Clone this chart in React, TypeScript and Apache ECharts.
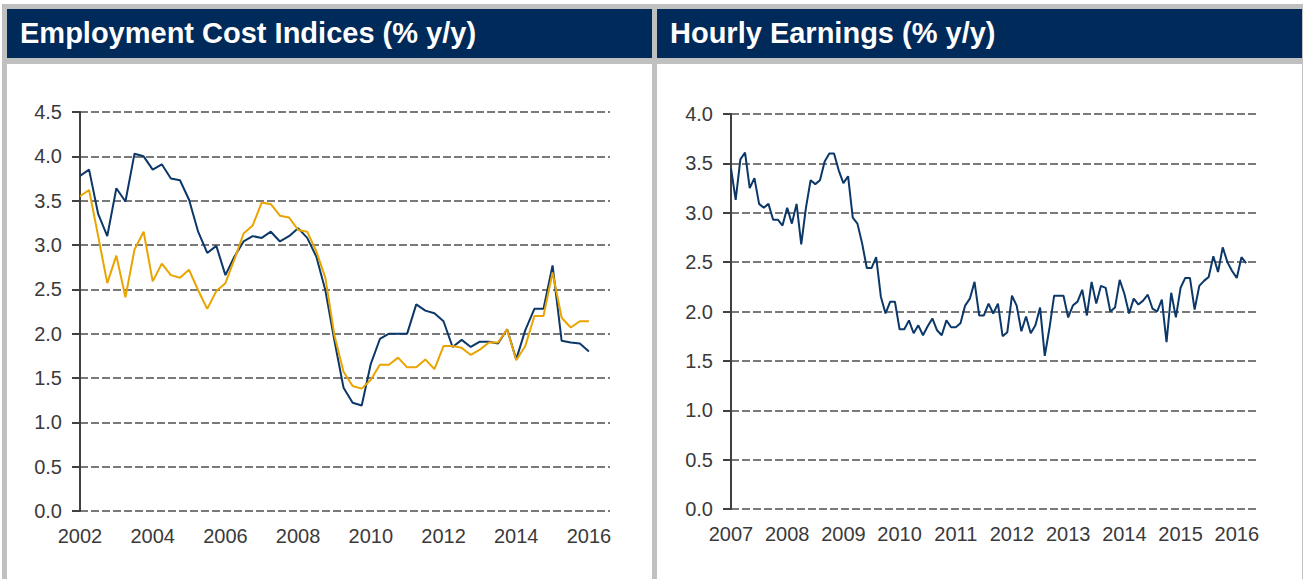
import React, { useEffect, useRef } from 'react';
import * as echarts from 'echarts';

// Employment Cost Indices, quarterly from 2002 Q1 to 2016 Q1 (% y/y)
const eciStartYear = 2002;
const eciTotal = [3.78, 3.85, 3.35, 3.10, 3.64, 3.49, 4.03, 4.00, 3.85, 3.91, 3.75, 3.73, 3.51, 3.15, 2.91, 2.99, 2.66, 2.87, 3.04, 3.10, 3.08, 3.15, 3.04, 3.10, 3.19, 3.08, 2.87, 2.49, 1.92, 1.39, 1.22, 1.19, 1.66, 1.94, 2.00, 2.00, 2.00, 2.33, 2.26, 2.23, 2.14, 1.85, 1.93, 1.85, 1.91, 1.91, 1.89, 2.05, 1.71, 2.04, 2.28, 2.28, 2.77, 1.92, 1.90, 1.89, 1.80];
const eciWages = [3.55, 3.62, 3.10, 2.57, 2.88, 2.41, 2.95, 3.15, 2.59, 2.79, 2.66, 2.63, 2.72, 2.49, 2.28, 2.48, 2.57, 2.84, 3.13, 3.22, 3.48, 3.46, 3.33, 3.31, 3.17, 3.15, 2.93, 2.63, 1.98, 1.57, 1.41, 1.38, 1.48, 1.65, 1.65, 1.73, 1.62, 1.62, 1.71, 1.60, 1.86, 1.86, 1.84, 1.76, 1.82, 1.90, 1.90, 2.05, 1.70, 1.86, 2.20, 2.20, 2.69, 2.18, 2.07, 2.14, 2.14];

// Hourly earnings, monthly from Jan 2007 to Mar 2016 (% y/y)
const earnStartYear = 2007;
const hourlyEarnings = [3.45, 3.13, 3.54, 3.61, 3.25, 3.35, 3.09, 3.05, 3.09, 2.93, 2.93, 2.87, 3.05, 2.89, 3.09, 2.68, 3.05, 3.33, 3.29, 3.33, 3.52, 3.60, 3.60, 3.43, 3.30, 3.37, 2.95, 2.89, 2.69, 2.44, 2.44, 2.55, 2.15, 1.98, 2.10, 2.10, 1.82, 1.82, 1.91, 1.78, 1.86, 1.76, 1.85, 1.93, 1.81, 1.76, 1.91, 1.84, 1.84, 1.88, 2.06, 2.13, 2.30, 1.96, 1.96, 2.08, 1.98, 2.08, 1.75, 1.79, 2.16, 2.06, 1.80, 1.95, 1.78, 1.86, 2.04, 1.55, 1.83, 2.16, 2.16, 2.16, 1.94, 2.06, 2.10, 2.22, 1.96, 2.30, 2.08, 2.26, 2.24, 2.00, 2.04, 2.32, 2.18, 1.98, 2.13, 2.07, 2.11, 2.17, 2.03, 2.00, 2.12, 1.69, 2.19, 1.94, 2.24, 2.34, 2.34, 2.02, 2.26, 2.31, 2.35, 2.56, 2.40, 2.65, 2.50, 2.41, 2.34, 2.55, 2.49];

const leftTitle = 'Employment Cost Indices (% y/y)';
const rightTitle = 'Hourly Earnings (% y/y)';

const FONT = "'Liberation Sans', Arial, sans-serif";
const NAVY = '#002a5a';
const FRAME = '#c0c0c0';
const BLUE = '#0b3868';
const ORANGE = '#eaa400';
const LABEL = '#3a3a3a';

export default function App() {
  const ref = useRef<HTMLDivElement>(null);

  useEffect(() => {
    document.body.style.margin = '0';
    const chart = echarts.init(ref.current!, null, { renderer: 'svg' });

    const yAxisBase = (max: number) => ({
      type: 'value',
      min: 0,
      max,
      interval: 0.5,
      axisLine: { show: true, lineStyle: { color: '#404040', width: 2 } },
      axisTick: { show: true, length: 8, lineStyle: { color: '#404040', width: 2 } },
      axisLabel: {
        margin: 18,
        fontSize: 20,
        color: LABEL,
        fontFamily: FONT,
        formatter: (v: number) => v.toFixed(1),
      },
      splitLine: { show: true, lineStyle: { color: '#7a7a7a', width: 2, type: [8, 3] } },
    });

    const xAxisBase = (min: number, max: number, interval: number) => ({
      type: 'value',
      min,
      max,
      interval,
      axisLine: { show: false },
      axisTick: { show: false },
      splitLine: { show: false },
      axisLabel: {
        margin: 15,
        fontSize: 20,
        color: LABEL,
        fontFamily: FONT,
        showMinLabel: true,
        hideOverlap: false,
        formatter: (v: number) => (Math.abs(v - Math.round(v)) < 1e-6 ? String(Math.round(v)) : ''),
      },
    });

    chart.setOption({
      animation: false,
      backgroundColor: '#ffffff',
      graphic: [
        { type: 'rect', z: -20, silent: true, shape: { x: 2, y: 4, width: 1301, height: 575 }, style: { fill: FRAME } },
        { type: 'rect', z: -19, silent: true, shape: { x: 7, y: 64, width: 645, height: 515 }, style: { fill: '#ffffff' } },
        { type: 'rect', z: -19, silent: true, shape: { x: 657, y: 64, width: 645, height: 515 }, style: { fill: '#ffffff' } },
        { type: 'rect', z: -19, silent: true, shape: { x: 7, y: 9, width: 645, height: 49 }, style: { fill: NAVY } },
        { type: 'rect', z: -19, silent: true, shape: { x: 657, y: 9, width: 645, height: 49 }, style: { fill: NAVY } },
        {
          type: 'text', z: 10, x: 20, y: 33,
          style: { text: leftTitle, fill: '#ffffff', font: `bold 29px ${FONT}`, verticalAlign: 'middle', align: 'left' },
        },
        {
          type: 'text', z: 10, x: 670, y: 33,
          style: { text: rightTitle, fill: '#ffffff', font: `bold 29px ${FONT}`, verticalAlign: 'middle', align: 'left' },
        },
      ],
      grid: [
        { left: 80, right: 693, top: 112, bottom: 68, containLabel: false },
        { left: 731, right: 46, top: 114, bottom: 70, containLabel: false },
      ],
      xAxis: [
        { ...xAxisBase(2002, 2016.58, 2), gridIndex: 0 },
        { ...xAxisBase(2007, 2016.36, 1), gridIndex: 1 },
      ],
      yAxis: [
        { ...yAxisBase(4.5), gridIndex: 0 },
        { ...yAxisBase(4.0), gridIndex: 1 },
      ],
      series: [
        {
          type: 'line', xAxisIndex: 0, yAxisIndex: 0, showSymbol: false, name: 'ECI total',
          data: eciTotal.map((v, i) => [eciStartYear + i / 4, v]),
          lineStyle: { color: BLUE, width: 2 }, itemStyle: { color: BLUE },
        },
        {
          type: 'line', xAxisIndex: 0, yAxisIndex: 0, showSymbol: false, name: 'ECI wages',
          data: eciWages.map((v, i) => [eciStartYear + i / 4, v]),
          lineStyle: { color: ORANGE, width: 2 }, itemStyle: { color: ORANGE },
        },
        {
          type: 'line', xAxisIndex: 1, yAxisIndex: 1, showSymbol: false, name: 'Hourly earnings',
          data: hourlyEarnings.map((v, i) => [earnStartYear + i / 12, v]),
          lineStyle: { color: BLUE, width: 2 }, itemStyle: { color: BLUE },
        },
      ],
    });

    return () => chart.dispose();
  }, []);

  return <div ref={ref} style={{ position: 'fixed', left: 0, top: 0, width: 1303, height: 579 }} />;
}
